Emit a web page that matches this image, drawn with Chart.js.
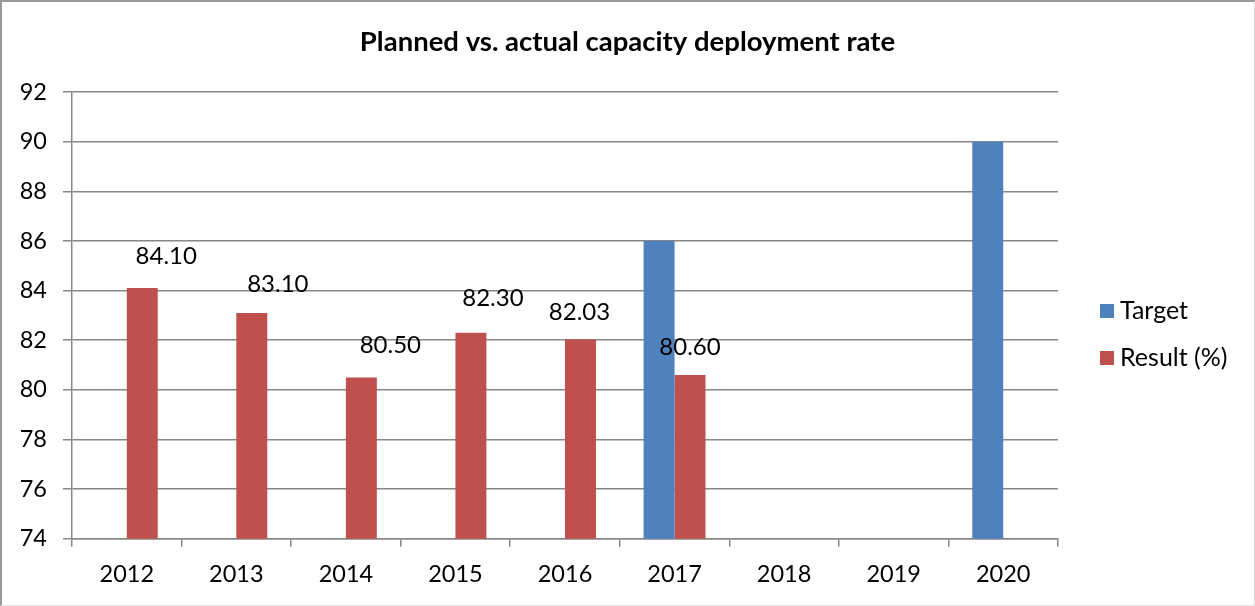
<!DOCTYPE html>
<html>
<head>
<meta charset="utf-8">
<script src="https://cdn.jsdelivr.net/npm/chart.js@4"></script>
<style>
    html, body { margin: 0; padding: 0; background: #fff; }
    #wrap { position: relative; width: 1255px; height: 606px; }
    #myChart { position: absolute; left: 0; top: 0; }
    #frame {
        position: absolute;
        left: 0; top: 0;
        width: 1255px; height: 606px;
        box-sizing: border-box;
        border-left: 2px solid #9a9a9a;
        border-top: 2px solid #9a9a9a;
        border-right: 1px solid #d9d9d9;
        border-bottom: 1px solid #e3e3e3;
        pointer-events: none;
    }
</style>
</head>
<body>
<div id="wrap">
    <canvas id="myChart" width="1255" height="606"></canvas>
    <div id="frame"></div>
</div>
<script>
const years = ['2012', '2013', '2014', '2015', '2016', '2017', '2018', '2019', '2020'];
const targetValues = [null, null, null, null, null, 86, null, null, 90];
const resultValues = [84.10, 83.10, 80.50, 82.30, 82.03, 80.60, null, null, null];
const yTicks = [74, 76, 78, 80, 82, 84, 86, 88, 90, 92];

const chartTitle = 'Planned vs. actual capacity deployment rate';
const seriesNames = ['Target', 'Result (%)'];
const barColors = ['#4F81BD', '#C0504D'];

const FONT = "Lato, 'Open Sans', sans-serif";
const gridColor = '#878787';

// label nudges, like the hand-dragged labels in the source sheet
const labelShift = [
    { dx: 24, dy: -32 }, { dx: 26, dy: -29 }, { dx: 29, dy: -32 },
    { dx: 22, dy: -35 }, { dx: -1, dy: -27 }, { dx: 0, dy: -28 }
];

// title is centred on the whole canvas, not on the plot
const centredTitle = {
    id: 'centredTitle',
    afterDraw(chart) {
        const ctx = chart.ctx;
        ctx.save();
        ctx.font = 'bold 27.5px ' + FONT;
        ctx.fillStyle = '#000';
        ctx.textAlign = 'center';
        ctx.textBaseline = 'middle';
        ctx.fillText(chartTitle, chart.width / 2, 42);
        ctx.restore();
    }
};

const valueLabels = {
    id: 'valueLabels',
    afterDatasetsDraw(chart) {
        const ctx = chart.ctx;
        const meta = chart.getDatasetMeta(1);
        ctx.save();
        ctx.font = '24px ' + FONT;
        ctx.fillStyle = '#000';
        ctx.textAlign = 'center';
        ctx.textBaseline = 'middle';
        meta.data.forEach((bar, i) => {
            const v = resultValues[i];
            if (v === null) return;
            const s = labelShift[i] || { dx: 0, dy: -30 };
            ctx.fillText(v.toFixed(2), bar.x + s.dx, bar.y + s.dy);
        });
        ctx.restore();
    }
};

const sideLegend = {
    id: 'sideLegend',
    afterDraw(chart) {
        const ctx = chart.ctx;
        const x = chart.chartArea.right + 42;
        ctx.save();
        ctx.font = '25px ' + FONT;
        ctx.textBaseline = 'middle';
        chart.data.datasets.forEach((ds, i) => {
            const y = 311 + i * 47;
            ctx.fillStyle = ds.backgroundColor;
            ctx.fillRect(x, y - 7, 14, 14);
            ctx.fillStyle = '#000';
            ctx.fillText(ds.label, x + 20, y);
        });
        ctx.restore();
    }
};

new Chart('myChart', {
    type: 'bar',
    data: {
        labels: years,
        datasets: [
            { label: seriesNames[0], data: targetValues, backgroundColor: barColors[0] },
            { label: seriesNames[1], data: resultValues, backgroundColor: barColors[1] }
        ]
    },
    options: {
        responsive: false,
        animation: false,
        devicePixelRatio: 1,
        categoryPercentage: 0.565,
        barPercentage: 1,
        layout: { padding: { left: 0, right: 197, bottom: 3, top: 92 } },
        plugins: {
            legend: { display: false },
            tooltip: { enabled: false },
            title: { display: false }
        },
        scales: {
            x: {
                offset: true,
                grid: { drawOnChartArea: false, color: gridColor, tickLength: 8, offset: true, lineWidth: 1.5 },
                border: { color: gridColor, width: 1.5 },
                ticks: { color: '#000', font: { family: FONT, size: 23.5 }, padding: 14, maxRotation: 0 }
            },
            y: {
                min: 74,
                max: 92,
                afterBuildTicks(scale) { scale.ticks = yTicks.map(v => ({ value: v })); },
                afterFit(scale) { scale.width = 72; },
                grid: { color: gridColor, tickLength: 9, lineWidth: 1.5 },
                border: { color: gridColor, width: 1.5 },
                ticks: { color: '#000', font: { family: FONT, size: 23.5 }, padding: 16 }
            }
        }
    },
    plugins: [centredTitle, valueLabels, sideLegend]
});
</script>
</body>
</html>
